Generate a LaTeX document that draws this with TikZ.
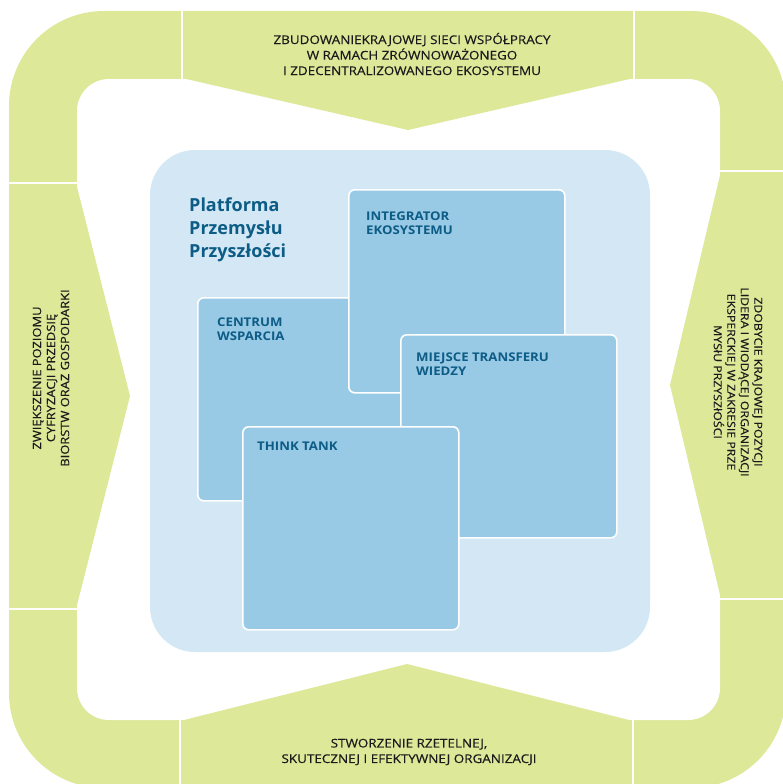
\documentclass[tikz,border=0pt]{standalone}
\usepackage{fontspec}
\setmainfont{Open Sans}
\newfontfamily\goalfont[FakeBold=0.35,FakeStretch=1.12]{Open Sans}
\newfontfamily\cardfont[FakeStretch=1.1]{Open Sans}
\usetikzlibrary{positioning}

\definecolor{bandgreen}{HTML}{DDE899}
\definecolor{panelblue}{HTML}{D3E8F4}
\definecolor{cardblue}{HTML}{98CAE6}
\definecolor{inkblue}{HTML}{0D5C86}
\definecolor{inkblack}{HTML}{1A1A1A}

\begin{document}
\begin{tikzpicture}[x=1pt,y=-1pt,
    cut/.style={draw=white, line width=2pt},
    goal/.style={font=\goalfont\fontsize{12}{15.5}\selectfont, text=inkblack, align=center, inner sep=0pt},
    card/.style={fill=cardblue, draw=white, line width=1.6pt, rounded corners=6pt,
                 minimum width=216pt, minimum height=203pt, anchor=north west, inner sep=0pt},
    cardtext/.style={font=\cardfont\bfseries\fontsize{12}{14}\selectfont, text=inkblue, align=left,
                     anchor=north west, inner sep=0pt}
  ]
  \useasboundingbox (0,0) rectangle (782,784);

  % green frame with the four arrows
  \fill[bandgreen, rounded corners=95pt] (9,11) rectangle (786,788);
  \fill[white, rounded corners=32pt] (77,79) rectangle (720,720);
  \fill[bandgreen] (182,78) -- (634,78) -- (408,130) -- cycle;
  \fill[bandgreen] (76,183) -- (76,609) -- (130,396) -- cycle;
  \fill[bandgreen] (721,171) -- (721,599) -- (670,385) -- cycle;
  \fill[bandgreen] (180,721) -- (633,721) -- (407,664) -- cycle;

  % cuts between the pieces
  \draw[cut] (182,0) -- (182,80);
  \draw[cut] (634,0) -- (634,80);
  \draw[cut] (0,183) -- (78,183);
  \draw[cut] (0,609) -- (78,609);
  \draw[cut] (719,171) -- (790,171);
  \draw[cut] (719,599) -- (790,599);
  \draw[cut] (180,719) -- (180,790);
  \draw[cut] (633,719) -- (633,790);

  % goals
  \node[goal] (goal_top) at (412,54) {ZBUDOWANIEKRAJOWEJ SIECI WSPÓŁPRACY\\W RAMACH ZRÓWNOWAŻONEGO\\I ZDECENTRALIZOWANEGO EKOSYSTEMU};
  \node[goal, rotate=90, font=\goalfont\fontsize{11.5}{14}\selectfont] (goal_left) at (51,378) {ZWIĘKSZENIE POZIOMU\\CYFRYZACJI PRZEDSIĘ\\BIORSTW ORAZ GOSPODARKI};
  \node[goal, rotate=-90, font=\goalfont\fontsize{11}{13.5}\selectfont] (goal_right) at (738,382) {ZDOBYCIE KRAJOWEJ POZYCJI\\LIDERA I WIODĄCEJ ORGANIZACJI\\EKSPERCKIEJ W ZAKRESIE PRZE\\MYSłU PRZYSZłOŚCI};
  \node[goal] (goal_bottom) at (409,752) {STWORZENIE RZETELNEJ,\\SKUTECZNEJ I EFEKTYWNEJ ORGANIZACJI};

  % platform
  \fill[panelblue, rounded corners=45pt] (150,150) rectangle (650,652);
  \node[font=\bfseries\fontsize{18}{23}\selectfont, text=inkblue, align=left, anchor=north west, inner sep=0pt]
    (title) at (189,198) {Platforma\\Przemysłu\\Przyszłości};

  \node[card] (centrum) at (197,297) {};
  \node[card] (integrator) at (348,189) {};
  \node[card] (transfer) at (400,334) {};
  \node[card] (think) at (242,426) {};

  \node[cardtext] (centrum_txt) at ([xshift=20pt,yshift=-21pt]centrum.north west) {CENTRUM\\WSPARCIA};
  \node[cardtext] (integrator_txt) at ([xshift=18pt,yshift=-23pt]integrator.north west) {INTEGRATOR\\EKOSYSTEMU};
  \node[cardtext] (transfer_txt) at ([xshift=16pt,yshift=-19pt]transfer.north west) {MIEJSCE TRANSFERU\\WIEDZY};
  \node[cardtext] (think_txt) at ([xshift=15pt,yshift=-16pt]think.north west) {THINK TANK};
\end{tikzpicture}
\end{document}
